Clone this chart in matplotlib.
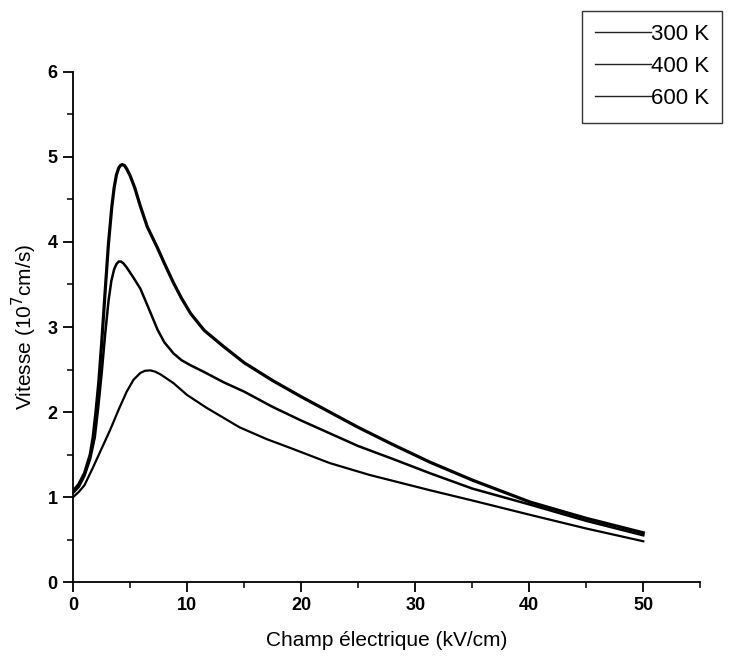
import matplotlib
matplotlib.use("Agg")
import matplotlib.pyplot as plt
from matplotlib.lines import Line2D
from matplotlib.ticker import MultipleLocator

# values: field (kV/cm) -> velocity (1e7 cm/s)
e_300 = [0, 0.5, 1.0, 1.5, 1.75, 2.0, 2.25, 2.5, 2.8, 3.1, 3.4, 3.6, 3.8, 4.0, 4.15, 4.3,
         4.5, 4.7, 5.0, 5.4, 5.9, 6.5, 7.4, 8.0, 8.8, 9.5, 10.3, 11.5, 13.2, 15.0, 17.5,
         20.0, 22.5, 25.0, 28.0, 31.3, 35.0, 40.1, 45.0, 50.0]
v_300 = [1.07, 1.15, 1.28, 1.5, 1.7, 2.0, 2.35, 2.8, 3.4, 3.98, 4.42, 4.64, 4.79, 4.87, 4.9, 4.91,
         4.9, 4.86, 4.78, 4.64, 4.42, 4.18, 3.93, 3.75, 3.52, 3.34, 3.16, 2.96, 2.77, 2.58, 2.37,
         2.18, 2.0, 1.82, 1.62, 1.41, 1.2, 0.94, 0.75, 0.58]

e_400 = [0, 0.5, 1.0, 1.5, 1.9, 2.2, 2.5, 2.8, 3.1, 3.35, 3.6, 3.8, 4.0, 4.2, 4.4, 4.7,
         5.2, 5.9, 6.5, 7.0, 7.4, 8.0, 8.8, 9.5, 10.3, 11.5, 13.2, 15.0, 17.5, 20.0, 22.5,
         25.0, 28.0, 31.3, 35.0, 40.1, 45.0, 50.0]
v_400 = [1.05, 1.12, 1.25, 1.45, 1.7, 2.05, 2.45, 2.9, 3.3, 3.54, 3.68, 3.74, 3.77, 3.77, 3.75, 3.7,
         3.6, 3.45, 3.26, 3.1, 2.97, 2.82, 2.69, 2.61, 2.55, 2.47, 2.35, 2.24, 2.06, 1.9, 1.75,
         1.6, 1.45, 1.28, 1.1, 0.91, 0.72, 0.55]

e_600 = [0, 0.5, 1.0, 1.75, 2.5, 3.25, 4.0, 4.7, 5.3, 5.9, 6.3, 6.75, 7.2, 7.7, 8.8, 10.0,
         11.7, 14.6, 17.0, 19.0, 22.5, 26.0, 31.3, 35.0, 40.1, 45.0, 50.0]
v_600 = [1.0, 1.06, 1.14, 1.35, 1.57, 1.79, 2.03, 2.24, 2.38, 2.46, 2.485, 2.49, 2.475, 2.44, 2.34, 2.2,
         2.05, 1.82, 1.68, 1.58, 1.4, 1.26, 1.08, 0.96, 0.79, 0.63, 0.48]

labels = ["300 K", "400 K", "600 K"]

plt.rcParams.update({
    "font.family": "Liberation Sans",
    "axes.linewidth": 1.3,
})

fig = plt.figure(figsize=(7.31, 6.66), dpi=100)
ax = fig.add_axes([0.1, 0.126, 0.858, 0.766])

ax.plot(e_300, v_300, color="black", linewidth=2.3, solid_joinstyle="round")
ax.plot(e_400, v_400, color="black", linewidth=1.8, solid_joinstyle="round")
ax.plot(e_600, v_600, color="black", linewidth=1.6, solid_joinstyle="round")

ax.set_xlim(0, 55)
ax.set_ylim(0, 6)
ax.xaxis.set_major_locator(MultipleLocator(10))
ax.xaxis.set_minor_locator(MultipleLocator(5))
ax.yaxis.set_major_locator(MultipleLocator(1))
ax.yaxis.set_minor_locator(MultipleLocator(0.5))
ax.spines["top"].set_visible(False)
ax.spines["right"].set_visible(False)
ax.tick_params(which="major", direction="out", length=7, width=1.3, labelsize=13, pad=4)
ax.tick_params(which="minor", direction="out", length=4, width=1.1)
for lab in ax.get_xticklabels() + ax.get_yticklabels():
    lab.set_fontweight("bold")

ax.set_xlabel("Champ électrique (kV/cm)", fontsize=15, labelpad=12)
ax.set_ylabel("Vitesse (10$^7$cm/s)", fontsize=15, labelpad=6)

handles = [Line2D([], [], color="#222222", linewidth=1.0) for _ in labels]
leg = fig.legend(handles, labels, loc="upper left", bbox_to_anchor=(0.796, 0.984),
                 frameon=True, fancybox=False, edgecolor="black", fontsize=16,
                 handlelength=2.5, handletextpad=0.0, labelspacing=0.5,
                 borderpad=0.6, borderaxespad=0)
leg.get_frame().set_linewidth(1.0)

fig.savefig("out.png", dpi=100)
